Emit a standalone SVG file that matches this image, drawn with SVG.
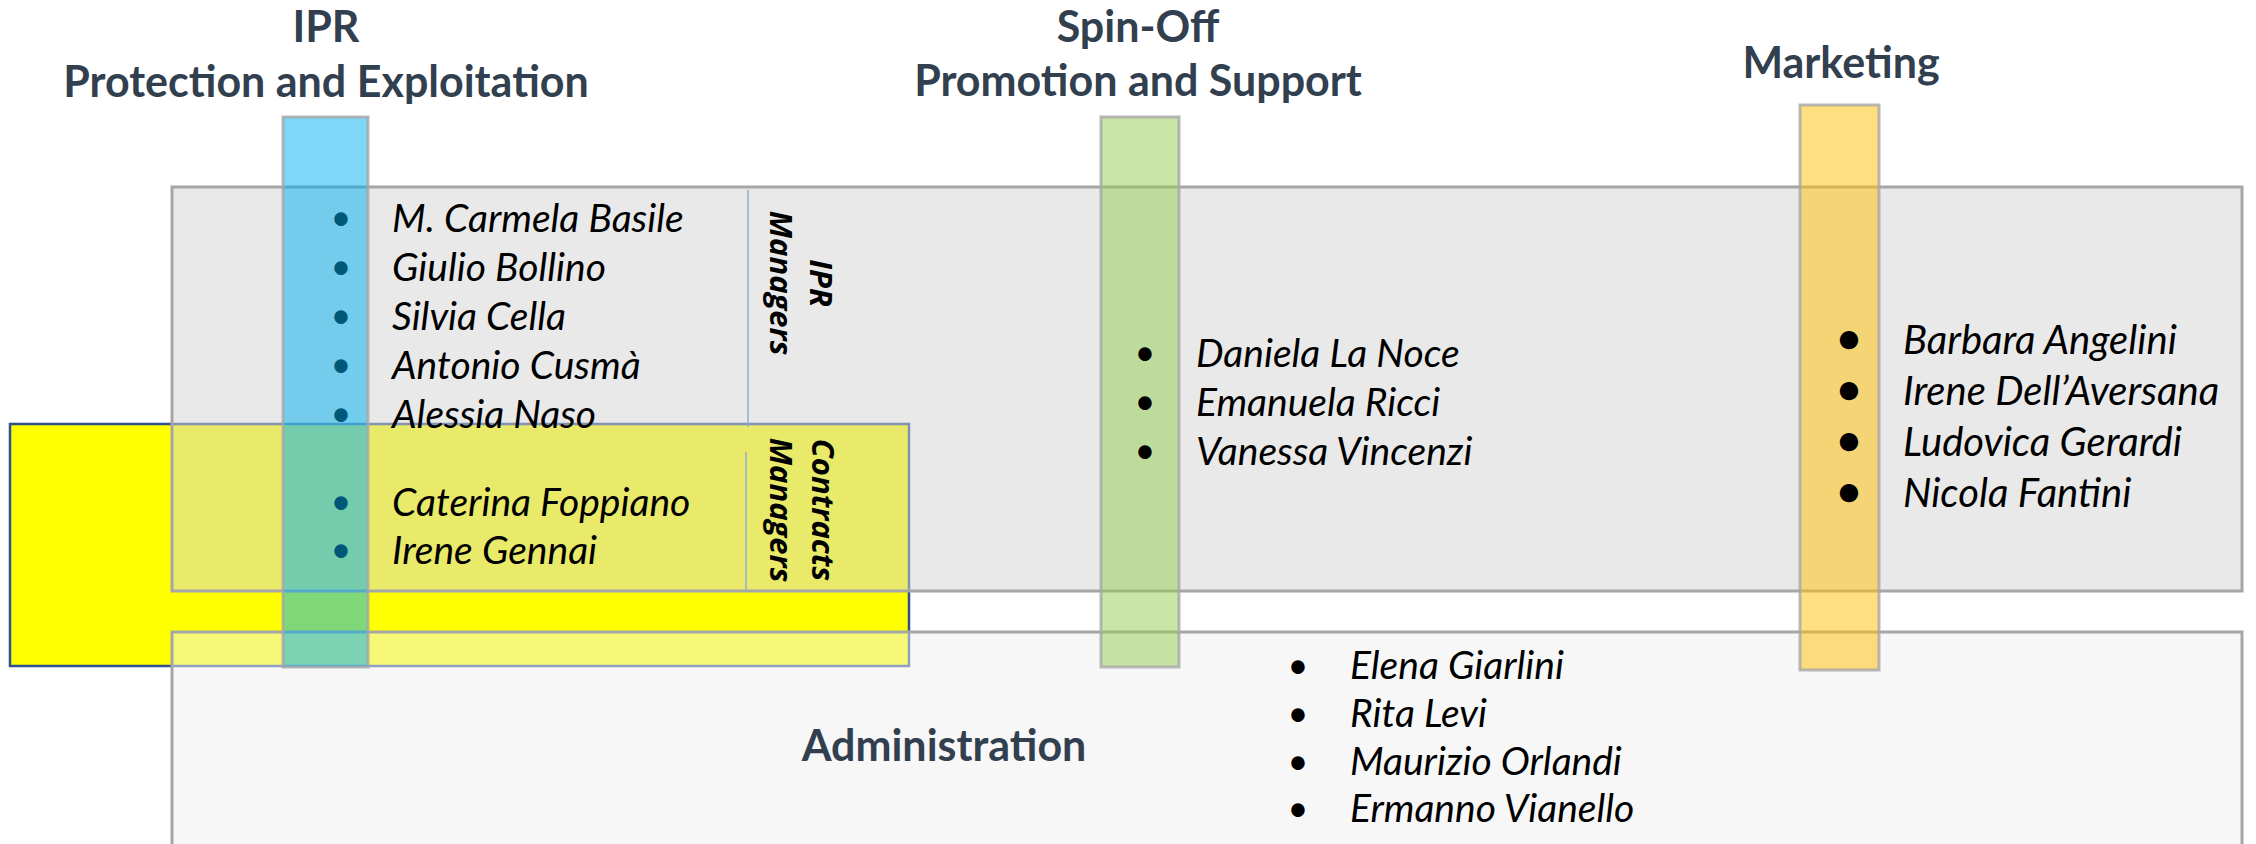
<svg xmlns="http://www.w3.org/2000/svg" width="2256" height="844" viewBox="0 0 2256 844">
<style>
.title{font-family:Lato,"Open Sans","Liberation Sans",sans-serif;font-weight:bold;font-size:43px;fill:#323F4F;text-anchor:middle}
.name{font-family:Lato,"Open Sans","Liberation Sans",sans-serif;font-style:italic;font-size:39px;fill:#000}
.mk{font-size:40px}
.bul{font-family:Lato,"Liberation Sans",sans-serif;font-size:36px;text-anchor:middle}
.bulbig{font-family:Lato,"Liberation Sans",sans-serif;font-weight:bold;font-size:42px;text-anchor:middle}
.role{font-family:"Open Sans",Lato,"Liberation Sans",sans-serif;font-weight:bold;font-style:italic;font-size:31px;fill:#000;text-anchor:middle}
.col{stroke:#A6A6A6;stroke-width:3;stroke-opacity:0.8}
.sep{stroke:#8FAADC;stroke-width:1.5;fill:none}
</style>
<rect width="2256" height="844" fill="#FFFFFF"/>
<g id="contracts-area">
<rect x="10" y="424" width="899" height="242" fill="#FFFF00" stroke="#2F528F" stroke-width="2.5"/>
</g>
<g id="main-area">
<rect x="172" y="187" width="2070" height="404" fill="#D4D4D4" fill-opacity="0.5" stroke="#A6A6A6" stroke-width="3"/>
</g>
<g id="administration">
<rect x="172" y="632" width="2070" height="240" fill="#EFEFEF" fill-opacity="0.5" stroke="#A6A6A6" stroke-width="3"/>
<text class="title" x="944" y="761">Administration</text>
<text class="bul" x="1298" y="678">•</text><text class="name" x="1350" y="679">Elena Giarlini</text>
<text class="bul" x="1298" y="726">•</text><text class="name" x="1350" y="727">Rita Levi</text>
<text class="bul" x="1298" y="774">•</text><text class="name" x="1350" y="775">Maurizio Orlandi</text>
<text class="bul" x="1298" y="821">•</text><text class="name" x="1350" y="822">Ermanno Vianello</text>
</g>
<g id="connectors">
<line class="sep" x1="748" y1="190" x2="748" y2="427"/>
<line class="sep" x1="746" y1="452" x2="746" y2="591"/>
</g>
<g id="ipr-managers">
<text class="bul" x="341" y="230">•</text><text class="name" x="392" y="232">M. Carmela Basile</text>
<text class="bul" x="341" y="279">•</text><text class="name" x="392" y="281">Giulio Bollino</text>
<text class="bul" x="341" y="328">•</text><text class="name" x="392" y="330">Silvia Cella</text>
<text class="bul" x="341" y="377">•</text><text class="name" x="392" y="379">Antonio Cusmà</text>
<text class="bul" x="341" y="426">•</text><text class="name" x="392" y="428">Alessia Naso</text>
<text class="role" transform="translate(810,283) rotate(90)">IPR</text>
<text class="role" transform="translate(770,283) rotate(90)">Managers</text>
</g>
<g id="contracts-managers">
<text class="bul" x="341" y="514">•</text><text class="name" x="392" y="516">Caterina Foppiano</text>
<text class="bul" x="341" y="562">•</text><text class="name" x="392" y="564">Irene Gennai</text>
<text class="role" transform="translate(812,510) rotate(90)">Contracts</text>
<text class="role" transform="translate(770,510) rotate(90)">Managers</text>
</g>
<g id="ipr">
<rect class="col" x="283" y="117" width="85" height="550" fill="#00B0F0" fill-opacity="0.5"/>
<text class="title" x="326" y="42">IPR</text>
<text class="title" x="326" y="97">Protection and Exploitation</text>
</g>
<g id="spin-off">
<rect class="col" x="1101" y="117" width="78" height="550" fill="#92D050" fill-opacity="0.5"/>
<text class="title" x="1138" y="42">Spin-Off</text>
<text class="title" x="1138" y="96">Promotion and Support</text>
<text class="bul" x="1145" y="365">•</text><text class="name" x="1196" y="367">Daniela La Noce</text>
<text class="bul" x="1145" y="414">•</text><text class="name" x="1196" y="416">Emanuela Ricci</text>
<text class="bul" x="1145" y="463">•</text><text class="name" x="1196" y="465">Vanessa Vincenzi</text>
</g>
<g id="marketing">
<rect class="col" x="1800" y="105" width="79" height="565" fill="#FFC000" fill-opacity="0.5"/>
<text class="title" x="1841" y="78">Marketing</text>
<text class="bulbig" x="1849" y="353">•</text><text class="name mk" x="1903" y="354">Barbara Angelini</text>
<text class="bulbig" x="1849" y="404">•</text><text class="name mk" x="1903" y="405">Irene Dell’Aversana</text>
<text class="bulbig" x="1849" y="455">•</text><text class="name mk" x="1903" y="456">Ludovica Gerardi</text>
<text class="bulbig" x="1849" y="506">•</text><text class="name mk" x="1903" y="507">Nicola Fantini</text>
</g>
</svg>
